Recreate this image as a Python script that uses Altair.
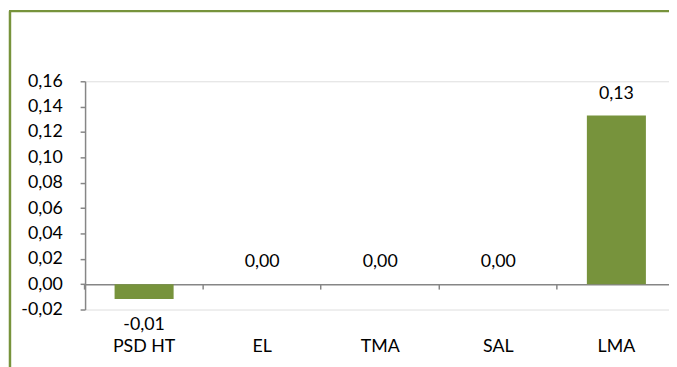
import altair as alt
import pandas as pd

categories = ["PSD HT", "EL", "TMA", "SAL", "LMA"]
values = [-0.0117, 0.0, 0.0, 0.0, 0.133]
y_ticks = [-0.02, 0.0, 0.02, 0.04, 0.06, 0.08, 0.10, 0.12, 0.14, 0.16]

df = pd.DataFrame({"cat": categories, "value": values})
df["label"] = [f"{v:.2f}".replace(".", ",") for v in values]

GREEN = "#77933C"
GRAY = "#868686"
FONT = "Lato"

x_enc = alt.X(
    "cat:N",
    sort=categories,
    scale=alt.Scale(paddingInner=0.5, paddingOuter=0.2228, align=0.561),
    axis=alt.Axis(
        title=None, orient="bottom", offset=-25.67, bandPosition=-0.5,
        domainColor=GRAY, domainWidth=1.5, tickColor=GRAY, tickWidth=1.5, tickSize=5,
        labelPadding=49, labelAngle=0, labelFontSize=18, labelColor="black",
        labelFont=FONT, labelOverlap=False,
    ),
)
y_enc = alt.Y(
    "value:Q",
    scale=alt.Scale(domain=[-0.02, 0.16], nice=False, zero=False),
    axis=alt.Axis(
        title=None, values=y_ticks, grid=False, labelOverlap=False,
        labelExpr="(datum.value < -0.000001 ? '-' : '') + replace(format(abs(datum.value), '.2f'), '.', ',')",
        domainColor=GRAY, domainWidth=1.5, tickColor=GRAY, tickWidth=1.5, tickSize=5,
        labelPadding=18, labelFontSize=18, labelColor="black", labelFont=FONT,
    ),
)

base = alt.Chart(df)
bars = base.mark_bar(color=GREEN).encode(x=x_enc, y=y_enc)
pos_text = base.transform_filter("datum.value >= 0").mark_text(
    dy=-22, baseline="middle", fontSize=18, font=FONT, color="black"
).encode(x=x_enc, y=y_enc, text="label:N")
neg_text = base.transform_filter("datum.value < 0").mark_text(
    dy=26, baseline="middle", fontSize=18, font=FONT, color="black"
).encode(x=x_enc, y=y_enc, text="label:N")

frame_df = pd.DataFrame({"a": [0]})
frame_left = alt.Chart(frame_df).mark_rule(color=GREEN, strokeWidth=2.5).encode(
    x=alt.value(-76), y=alt.value(-71), y2=alt.value(300)
)
frame_top = alt.Chart(frame_df).mark_rule(color=GREEN, strokeWidth=2.5).encode(
    x=alt.value(-77), x2=alt.value(700), y=alt.value(-71)
)

chart = alt.layer(bars, pos_text, neg_text, frame_left, frame_top).properties(
    width=591, height=231,
    autosize="none",
    padding={"left": 78, "top": 72, "right": 0, "bottom": 56},
).configure_view(stroke=None).configure_axis(labelOverlap=False).configure(font=FONT)

chart.save("out.html", embed_options={"renderer": "svg", "actions": False})
